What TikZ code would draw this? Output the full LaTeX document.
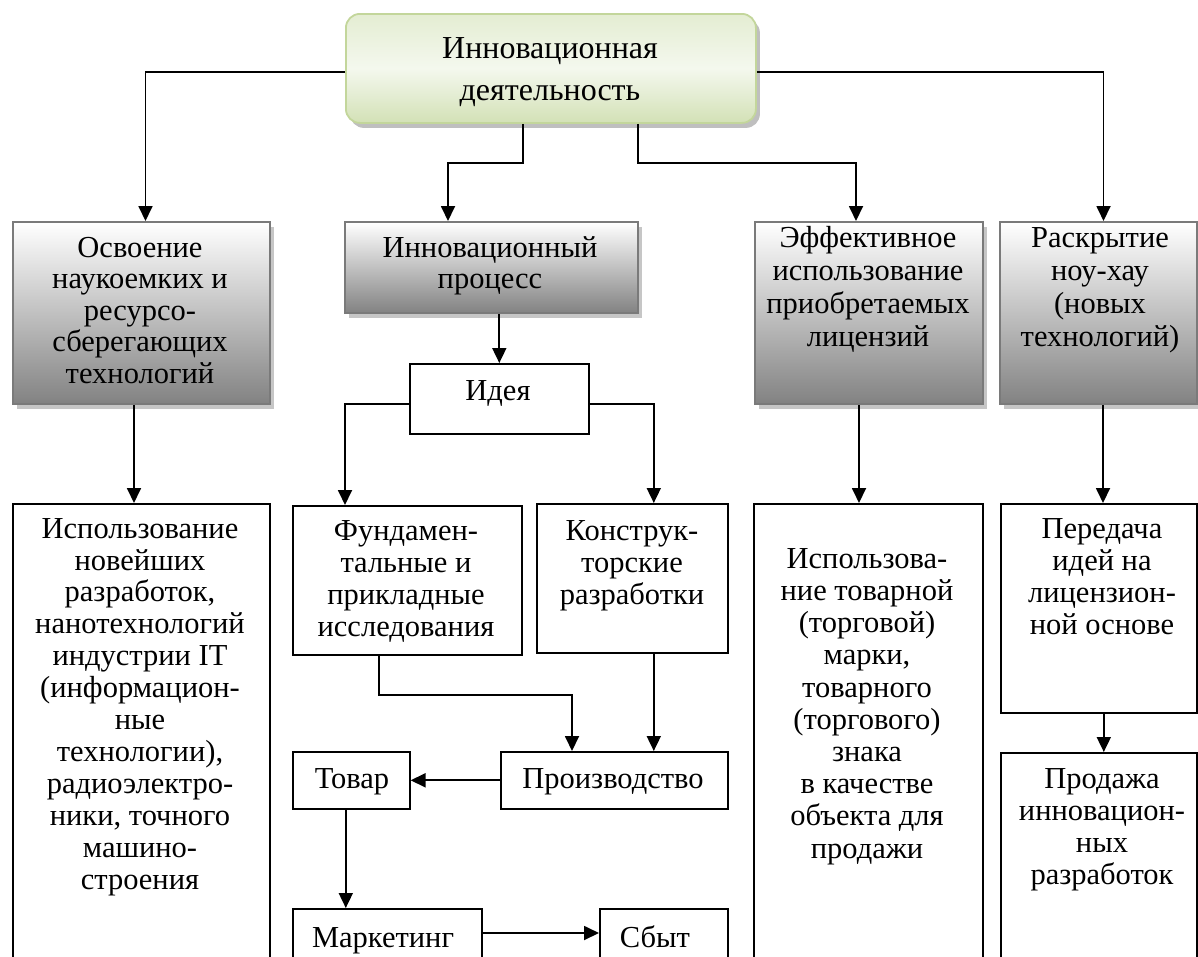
\documentclass[tikz,border=0pt]{standalone}
\usepackage{fontspec}
\setmainfont{Liberation Serif}
\usetikzlibrary{arrows.meta,shadows}
\definecolor{grnA}{HTML}{E4EDD2}
\definecolor{grnB}{HTML}{F4F8EE}
\definecolor{grnC}{HTML}{D3E1B6}
\definecolor{grnD}{HTML}{C3D69B}
\definecolor{gbord}{HTML}{7A7A7A}
\definecolor{gbot}{HTML}{828282}
\begin{document}
\begin{tikzpicture}[x=1pt,y=-1pt,
  plainbox/.style={draw=black, line width=1.6pt, fill=white, inner sep=0pt, anchor=north west},
  graybox/.style={draw=gbord, line width=2pt, top color=white, bottom color=gbot, inner sep=0pt, anchor=north west,
     drop shadow={shadow xshift=4pt, shadow yshift=-5pt, fill=gray!45, opacity=1}},
  topbox/.style={draw=grnD, line width=1.8pt, rounded corners=14pt, top color=grnA, bottom color=grnC, middle color=grnB,
     inner sep=0pt, anchor=north west,
     drop shadow={shadow xshift=4pt, shadow yshift=-5pt, fill=gray!50, opacity=1}},
  txt/.style={align=center, anchor=base, inner sep=0pt, font=\fontsize{30.5}{32}\selectfont},
  arr/.style={line width=1.8pt, -{Triangle[length=15pt,width=14pt]}}
]
\useasboundingbox (0,0) rectangle (1198,956);
\clip (0,0) rectangle (1198,956);

% boxes
\node[topbox, minimum width=410pt, minimum height=109pt] (top) at (345,13) {};
\node[graybox, minimum width=257pt, minimum height=182pt] (g1) at (12,221) {};
\node[graybox, minimum width=293pt, minimum height=91pt] (g2) at (344,221) {};
\node[graybox, minimum width=228pt, minimum height=182pt] (g3) at (754,221) {};
\node[graybox, minimum width=197pt, minimum height=182pt] (g4) at (999,221) {};
\node[plainbox, minimum width=257pt, minimum height=480pt] (b1) at (12,503) {};
\node[plainbox, minimum width=179pt, minimum height=70pt] (idea) at (409,363) {};
\node[plainbox, minimum width=229pt, minimum height=149pt] (fund) at (292,505) {};
\node[plainbox, minimum width=191pt, minimum height=149pt] (kon) at (536,503) {};
\node[plainbox, minimum width=117pt, minimum height=57pt] (tov) at (292,751) {};
\node[plainbox, minimum width=227pt, minimum height=57pt] (prod) at (500,751) {};
\node[plainbox, minimum width=189pt, minimum height=80pt] (mark) at (292,908) {};
\node[plainbox, minimum width=128pt, minimum height=80pt] (sbyt) at (599,908) {};
\node[plainbox, minimum width=229pt, minimum height=480pt] (b3) at (753,503) {};
\node[plainbox, minimum width=196pt, minimum height=209pt] (b4a) at (1000,503) {};
\node[plainbox, minimum width=196pt, minimum height=250pt] (b4b) at (1000,752) {};

% texts (anchor = baseline of the last line)
\node[txt, font=\fontsize{32}{42}\selectfont] (ttop) at (550,100) {Инновационная\\деятельность};
\node[txt, font=\fontsize{30.5}{31.5}\selectfont] (tg1) at (140,383) {Освоение\\наукоемких и\\ресурсо-\\сберегающих\\технологий};
\node[txt, font=\fontsize{30.5}{31}\selectfont] (tg2) at (490,288) {Инновационный\\процесс};
\node[txt, font=\fontsize{30.5}{33}\selectfont] (tg3) at (868,346) {Эффективное\\использование\\приобретаемых\\лицензий};
\node[txt, font=\fontsize{30.5}{33}\selectfont] (tg4) at (1100,346) {Раскрытие\\ноу-хау\\(новых\\технологий)};
\node[txt, font=\fontsize{30.5}{31.9}\selectfont] (tb1) at (140,889) {Использование\\новейших\\разработок,\\нанотехнологий\\индустрии IT\\(информацион-\\ные\\технологии),\\радиоэлектро-\\ники, точного\\машино-\\строения};
\node[txt] (tidea) at (498,400) {Идея};
\node[txt] (tfund) at (406,636) {Фундамен-\\тальные и\\прикладные\\исследования};
\node[txt] (tkon) at (632,604) {Конструк-\\торские\\разработки};
\node[txt] (ttov) at (352,788) {Товар};
\node[txt] (tprod) at (613,788) {Производство};
\node[txt] (tmark) at (383,947) {Маркетинг};
\node[txt] (tsbyt) at (655,947) {Сбыт};
\node[txt, font=\fontsize{30.5}{32.2}\selectfont] (tb3) at (867,858) {Использова-\\ние товарной\\(торговой)\\марки,\\товарного\\(торгового)\\знака\\в качестве\\объекта для\\продажи};
\node[txt] (tb4a) at (1102,634) {Передача\\идей на\\лицензион-\\ной основе};
\node[txt] (tb4b) at (1102,884) {Продажа\\инновацион-\\ных\\разработок};

% connectors
\coordinate (k1) at (448,163);
\coordinate (k2) at (856,163);
\coordinate (k3) at (345,0);
\coordinate (k4) at (379,695);
\coordinate (k5) at (572,695);
\coordinate (k6) at ([xshift=21.5pt]kon.south);
\coordinate (k7) at ([xshift=-5.5pt]tov.south);
\coordinate (k8) at (0,933);
\coordinate (k9) at ([xshift=-10pt]g3.south);
\coordinate (k10) at ([xshift=4.5pt]g4.south);
\coordinate (k11) at ([xshift=5pt]b4a.south);
\coordinate (k12) at ([xshift=-7.5pt]g1.south);

\draw[arr] ([yshift=-3.5pt]top.west) -| ([xshift=4pt]g1.north);
\draw[arr] ([yshift=-3.5pt]top.east) -| ([xshift=5pt]g4.north);
\draw[arr] ([xshift=-28pt]top.south) |- (k1) -- (k1 |- g2.north);
\draw[arr] ([xshift=87pt]top.south) |- (k2) -- (k2 |- g3.north);
\draw[arr] (k12) -- (k12 |- b1.north);
\draw[arr] (idea.north |- g2.south) -- (idea.north);
\draw[arr] ([yshift=-5pt]idea.west) -| (k3 |- fund.north);
\draw[arr] ([yshift=-5pt]idea.east) -| ([xshift=21.5pt]kon.north);
\draw[arr] (k4 |- fund.south) -- (k4) -- (k5) -- (k5 |- prod.north);
\draw[arr] (k6) -- (k6 |- prod.north);
\draw[arr] (prod.west) -- (tov.east);
\draw[arr] (k7) -- (k7 |- mark.north);
\draw[arr] (mark.east |- k8) -- (sbyt.west |- k8);
\draw[arr] (k9) -- (k9 |- b3.north);
\draw[arr] (k10) -- (k10 |- b4a.north);
\draw[arr] (k11) -- (k11 |- b4b.north);
\end{tikzpicture}
\end{document}
